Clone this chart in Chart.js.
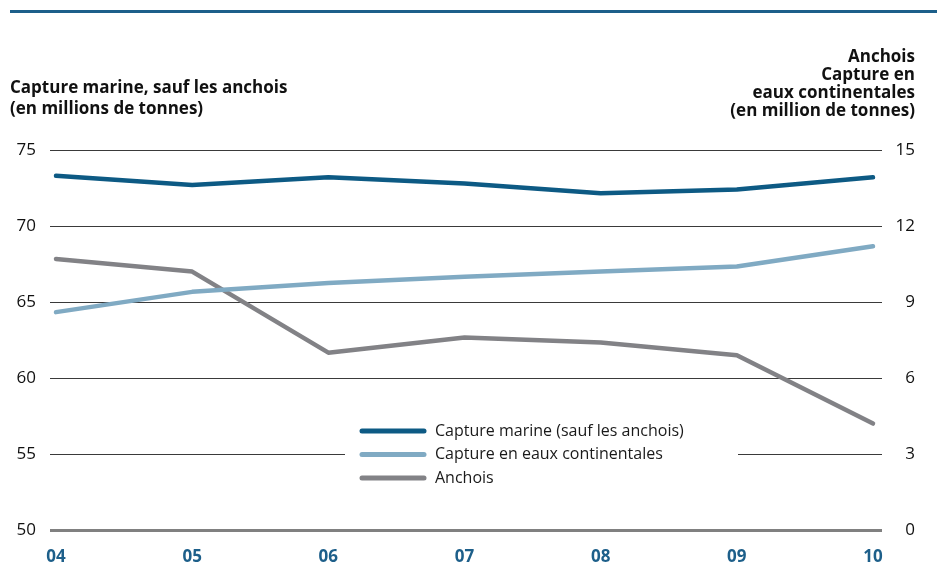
<!DOCTYPE html>
<html>
<head>
<meta charset="utf-8">
<script src="https://cdn.jsdelivr.net/npm/chart.js@4"></script>
<style>
  html, body { margin: 0; padding: 0; background: #ffffff; }
  #wrap { width: 937px; height: 565px; position: relative; }
</style>
</head>
<body>
<div id="wrap"><canvas id="fishChart"></canvas></div>
<script>
// years shown on the x axis
const years = ["04", "05", "06", "07", "08", "09", "10"];
// marine capture excluding anchovy, millions of tonnes (left axis)
const marineCatch = [73.3, 72.7, 73.2, 72.8, 72.15, 72.4, 73.2];
// inland capture, millions of tonnes (right axis)
const inlandCatch = [8.6, 9.4, 9.75, 10.0, 10.2, 10.4, 11.2];
// anchovy, millions of tonnes (right axis)
const anchovyCatch = [10.7, 10.2, 7.0, 7.6, 7.4, 6.9, 4.2];

const seriesLabels = [
  "Capture marine (sauf les anchois)",
  "Capture en eaux continentales",
  "Anchois",
];
const leftTitle = ["Capture marine, sauf les anchois", "(en millions de tonnes)"];
const rightTitle = ["Anchois", "Capture en", "eaux continentales", "(en million de tonnes)"];

const toPoints = (arr) => arr.map((v, i) => ({ x: i, y: v }));

const FONT = "'Open Sans', 'Noto Sans', sans-serif";

// axis titles, top rule and the in-plot legend
const decorations = {
  id: "decorations",
  afterDraw(chart) {
    const c = chart.ctx;
    c.save();

    c.fillStyle = "#1d5f8a";
    c.fillRect(10, 10, 927, 3);

    c.fillStyle = "#111111";
    c.font = "bold 17px " + FONT;
    c.textBaseline = "middle";
    c.textAlign = "left";
    leftTitle.forEach((t, i) => c.fillText(t, 10, 88 + i * 21));
    c.textAlign = "right";
    rightTitle.forEach((t, i) => c.fillText(t, 915, 57 + i * 18));

    // legend box
    c.fillStyle = "#ffffff";
    c.fillRect(345, 418, 393, 74);
    c.font = "16px " + FONT;
    c.textAlign = "left";
    chart.data.datasets.forEach((ds, i) => {
      const y = 431 + i * 23.5;
      c.strokeStyle = ds.borderColor;
      c.lineWidth = 5;
      c.lineCap = "round";
      c.beginPath();
      c.moveTo(362, y);
      c.lineTo(424, y);
      c.stroke();
      c.fillStyle = "#1a1a1a";
      c.fillText(ds.label, 435, y);
    });
    c.restore();
  },
};

new Chart(document.getElementById("fishChart").getContext("2d"), {
  type: "line",
  data: {
    datasets: [
      {
        label: seriesLabels[0],
        data: toPoints(marineCatch),
        yAxisID: "yLeft",
        borderColor: "#0d5a84",
      },
      {
        label: seriesLabels[1],
        data: toPoints(inlandCatch),
        yAxisID: "yRight",
        borderColor: "#80aac3",
      },
      {
        label: seriesLabels[2],
        data: toPoints(anchovyCatch),
        yAxisID: "yRight",
        borderColor: "#828286",
      },
    ],
  },
  options: {
    responsive: true,
    maintainAspectRatio: false,
    animation: false,
    layout: { padding: { top: 150, left: 0, right: 22, bottom: 0 } },
    elements: {
      line: { borderWidth: 4.5, tension: 0, borderJoinStyle: "round", borderCapStyle: "round" },
      point: { radius: 0 },
    },
    plugins: {
      legend: { display: false },
      tooltip: { enabled: false },
    },
    scales: {
      x: {
        type: "linear",
        min: -0.044,
        max: 6.066,
        afterFit: (s) => { s.height = 35; },
        afterBuildTicks: (s) => { s.ticks = years.map((_, i) => ({ value: i })); },
        grid: { display: false },
        border: { display: false },
        ticks: {
          color: "#1d5f8a",
          font: { family: FONT, size: 17, weight: "bold" },
          padding: 9,
          maxRotation: 0,
          callback: (v) => years[v],
        },
      },
      yLeft: {
        position: "left",
        min: 50,
        max: 75,
        afterFit: (s) => { s.width = 50; },
        grid: {
          drawTicks: false,
          color: (ctx) => (ctx.tick.value === 50 ? "#808080" : "#3a3a3a"),
          lineWidth: (ctx) => (ctx.tick.value === 50 ? 3 : 1),
        },
        border: { display: false },
        ticks: {
          stepSize: 5,
          color: "#111111",
          font: { family: FONT, size: 17 },
          padding: 14,
        },
      },
      yRight: {
        position: "right",
        min: 0,
        max: 15,
        afterFit: (s) => { s.width = 33; },
        grid: { display: false, drawTicks: false },
        border: { display: false },
        ticks: {
          stepSize: 3,
          color: "#111111",
          font: { family: FONT, size: 17 },
          padding: 14,
          crossAlign: "far",
        },
      },
    },
  },
  plugins: [decorations],
});
</script>
</body>
</html>
